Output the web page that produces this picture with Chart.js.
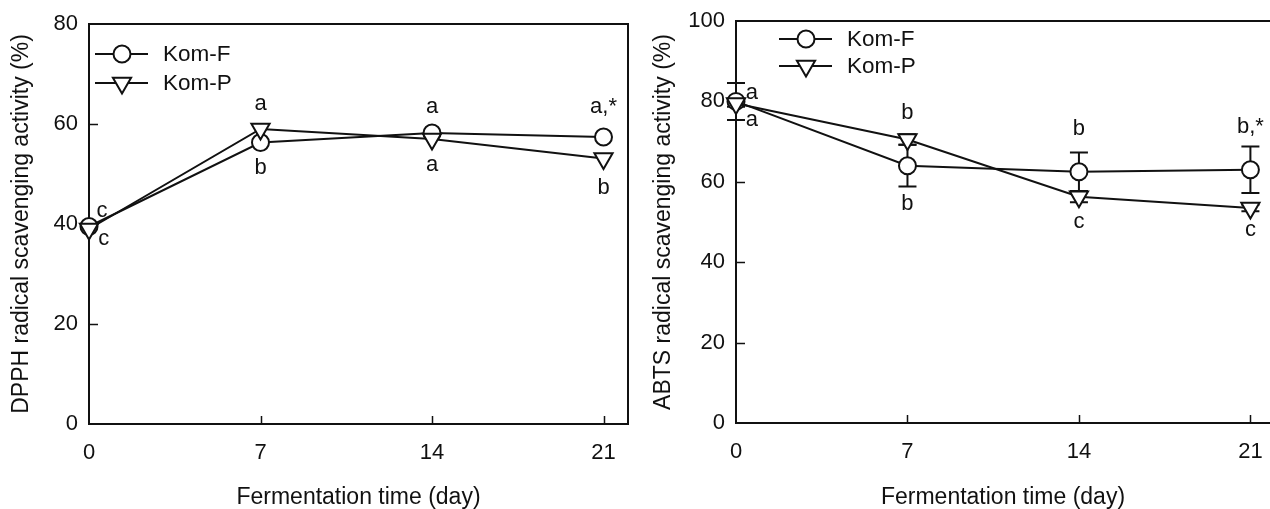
<!DOCTYPE html>
<html>
<head>
<meta charset="utf-8">
<script src="https://cdn.jsdelivr.net/npm/chart.js@4.4.0/dist/chart.umd.min.js"></script>
<style>
  html, body { margin: 0; padding: 0; background: #fff; overflow: hidden; }
  #wrap { position: relative; width: 1270px; height: 509px; overflow: hidden; }
  canvas { position: absolute; top: 0; }
</style>
</head>
<body>
<div id="wrap">
  <canvas id="dpph" width="640" height="509" style="left:0"></canvas>
  <canvas id="abts" width="630" height="509" style="left:640px"></canvas>
</div>
<script>
// fermentation days (x categories / tick labels)
const days = [0, 7, 14, 21];
const seriesNames = ['Kom-F', 'Kom-P'];

// DPPH (%)
const dpphF = [39.5, 56.3, 58.2, 57.4];
const dpphP = [39.0, 59.0, 57.0, 53.1];
const dpphTicks = [0, 20, 40, 60, 80];

// ABTS (%)
const abtsF = [80.0, 64.0, 62.5, 63.0];
const abtsFErr = [4.6, 5.2, 4.8, 5.8];
const abtsP = [79.5, 70.5, 56.3, 53.5];
const abtsPErr = [0.8, 1.3, 1.4, 0.8];
const abtsTicks = [0, 20, 40, 60, 80, 100];

// significance letters: [day, value, text]
const dpphLetters = [
    [0.53, 42.6, 'c'], [0.6, 37.0, 'c'],
    [7, 64.0, 'a'], [7, 51.2, 'b'],
    [14, 63.4, 'a'], [14, 51.8, 'a'],
    [21, 63.4, 'a,*'], [21, 47.2, 'b']
];
const abtsLetters = [
    [0.65, 82.0, 'a'], [0.65, 75.4, 'a'],
    [7, 77.1, 'b'], [7, 54.5, 'b'],
    [14, 73.1, 'b'], [14, 50.0, 'c'],
    [21, 73.6, 'b,*'], [21, 48.0, 'c']
];

const FONT = '"Liberation Sans", Arial, sans-serif';
const INK = '#111';

const framePlugin = {
    id: 'frame',
    beforeDatasetsDraw(chart, args, opts) {
        const { ctx, chartArea: a, scales: { x, y } } = chart;
        ctx.save();
        ctx.strokeStyle = INK;
        ctx.lineWidth = 2;
        ctx.beginPath();
        ctx.moveTo(opts.openRight ? a.right + 2 : a.right, a.top);
        ctx.lineTo(a.left, a.top);
        ctx.lineTo(a.left, a.bottom);
        ctx.lineTo(opts.openRight ? a.right + 2 : a.right, a.bottom);
        if (!opts.openRight) ctx.closePath();
        ctx.stroke();

        ctx.lineWidth = 1.5;
        ctx.beginPath();
        x.ticks.forEach(t => {
            if (t.value <= x.min) return;
            const px = Math.round(x.getPixelForValue(t.value)) + 0.5;
            ctx.moveTo(px, a.bottom);
            ctx.lineTo(px, a.bottom - 8);
        });
        y.ticks.forEach(t => {
            if (t.value <= y.min || t.value >= y.max) return;
            const py = Math.round(y.getPixelForValue(t.value)) + 0.5;
            ctx.moveTo(a.left, py);
            ctx.lineTo(a.left + 9, py);
        });
        ctx.stroke();

        // error bars (behind the markers)
        ctx.lineWidth = 2;
        chart.data.datasets.forEach(ds => {
            if (!ds.errors) return;
            ds.data.forEach((p, i) => {
                const e = ds.errors[i];
                if (!e) return;
                const px = x.getPixelForValue(p.x);
                const top = y.getPixelForValue(p.y + e);
                const bot = y.getPixelForValue(p.y - e);
                ctx.beginPath();
                ctx.moveTo(px, top); ctx.lineTo(px, bot);
                ctx.moveTo(px - 9, top); ctx.lineTo(px + 9, top);
                ctx.moveTo(px - 9, bot); ctx.lineTo(px + 9, bot);
                ctx.stroke();
            });
        });
        ctx.restore();
    },
    afterDraw(chart, args, opts) {
        const { ctx, chartArea: a, scales: { x, y } } = chart;
        ctx.save();
        ctx.fillStyle = INK;
        ctx.font = '22px ' + FONT;
        ctx.textAlign = 'center';
        ctx.textBaseline = 'middle';
        (opts.letters || []).forEach(([d, v, t]) => {
            ctx.fillText(t, x.getPixelForValue(d), y.getPixelForValue(v));
        });

        // legend
        const lx = a.left + opts.legendX;
        chart.data.datasets.forEach((ds, i) => {
            const ly = a.top + opts.legendY + i * opts.legendGap;
            ctx.strokeStyle = INK;
            ctx.lineWidth = 2;
            ctx.beginPath();
            ctx.moveTo(lx, ly); ctx.lineTo(lx + 53, ly);
            ctx.stroke();
            ctx.fillStyle = '#fff';
            Chart.helpers.drawPoint(ctx, {
                pointStyle: ds.pointStyle,
                radius: ds.pointRadius,
                rotation: ds.pointRotation || 0,
                borderWidth: 2
            }, lx + 27, ly);
            ctx.fillStyle = INK;
            ctx.textAlign = 'left';
            ctx.font = '22.5px ' + FONT;
            ctx.fillText(ds.label, lx + 68, ly + 1);
        });
        ctx.restore();
    }
};

function makeSeries(label, vals, errs, style) {
    const tri = style === 'triangle';
    return {
        label: label,
        data: days.map((d, i) => ({ x: d, y: vals[i] })),
        errors: errs,
        order: tri ? 0 : 1,
        clip: false,
        borderColor: INK,
        borderWidth: 2,
        backgroundColor: '#fff',
        pointStyle: style,
        pointRadius: tri ? 10.5 : 8.5,
        pointRotation: tri ? 180 : 0,
        pointBorderWidth: 2,
        pointBorderColor: INK,
        pointBackgroundColor: '#fff',
        tension: 0,
        fill: false
    };
}

function buildChart(id, fVals, fErr, pVals, pErr, yTicks, yTitle, letters, cfg) {
    const ctx = document.getElementById(id).getContext('2d');
    return new Chart(ctx, {
        type: 'line',
        data: {
            datasets: [
                makeSeries(seriesNames[0], fVals, fErr, 'circle'),
                makeSeries(seriesNames[1], pVals, pErr, 'triangle')
            ]
        },
        options: {
            responsive: false,
            animation: false,
            events: [],
            layout: { autoPadding: false, padding: { top: cfg.top, right: cfg.right, left: 0, bottom: 0 } },
            plugins: {
                legend: { display: false },
                tooltip: { enabled: false },
                frame: {
                    letters: letters, openRight: cfg.openRight,
                    legendX: cfg.legX, legendY: cfg.legY, legendGap: cfg.legGap
                }
            },
            scales: {
                x: {
                    type: 'linear',
                    min: 0,
                    max: cfg.xmax,
                    afterBuildTicks: s => { s.ticks = days.map(v => ({ value: v })); },
                    afterFit: s => { s.height = cfg.xh; s.paddingLeft = 0; s.paddingRight = 0; },
                    grid: { display: false, drawTicks: false },
                    border: { display: false },
                    ticks: { color: INK, padding: 16, maxRotation: 0, font: { family: FONT, size: 22 } },
                    title: {
                        display: true,
                        text: 'Fermentation time (day)',
                        color: INK,
                        padding: { top: 0, bottom: 0 },
                        font: { family: FONT, size: 23, lineHeight: 1 }
                    }
                },
                y: {
                    min: yTicks[0],
                    max: yTicks[yTicks.length - 1],
                    afterBuildTicks: s => { s.ticks = yTicks.map(v => ({ value: v })); },
                    afterFit: s => { s.width = cfg.yw; s.paddingTop = 0; s.paddingBottom = 0; },
                    grid: { display: false, drawTicks: false },
                    border: { display: false },
                    ticks: { color: INK, padding: 11, font: { family: FONT, size: 22 } },
                    title: {
                        display: true,
                        text: yTitle,
                        color: INK,
                        padding: { top: cfg.ytp, bottom: 0 },
                        font: { family: FONT, size: 23, lineHeight: 1 }
                    }
                }
            }
        },
        plugins: [framePlugin]
    });
}

buildChart('dpph', dpphF, null, dpphP, null, dpphTicks,
    'DPPH radical scavenging activity (%)', dpphLetters,
    { top: 24, right: 12, xmax: 22, xh: 85, yw: 89, ytp: 10, legX: 6, legY: 30, legGap: 29 });

buildChart('abts', abtsF, abtsFErr, abtsP, abtsPErr, abtsTicks,
    'ABTS radical scavenging activity (%)', abtsLetters,
    { top: 21, right: 0, xmax: 21.8, xh: 86, yw: 96, ytp: 12, openRight: true, legX: 43, legY: 18, legGap: 27 });
</script>
</body>
</html>
